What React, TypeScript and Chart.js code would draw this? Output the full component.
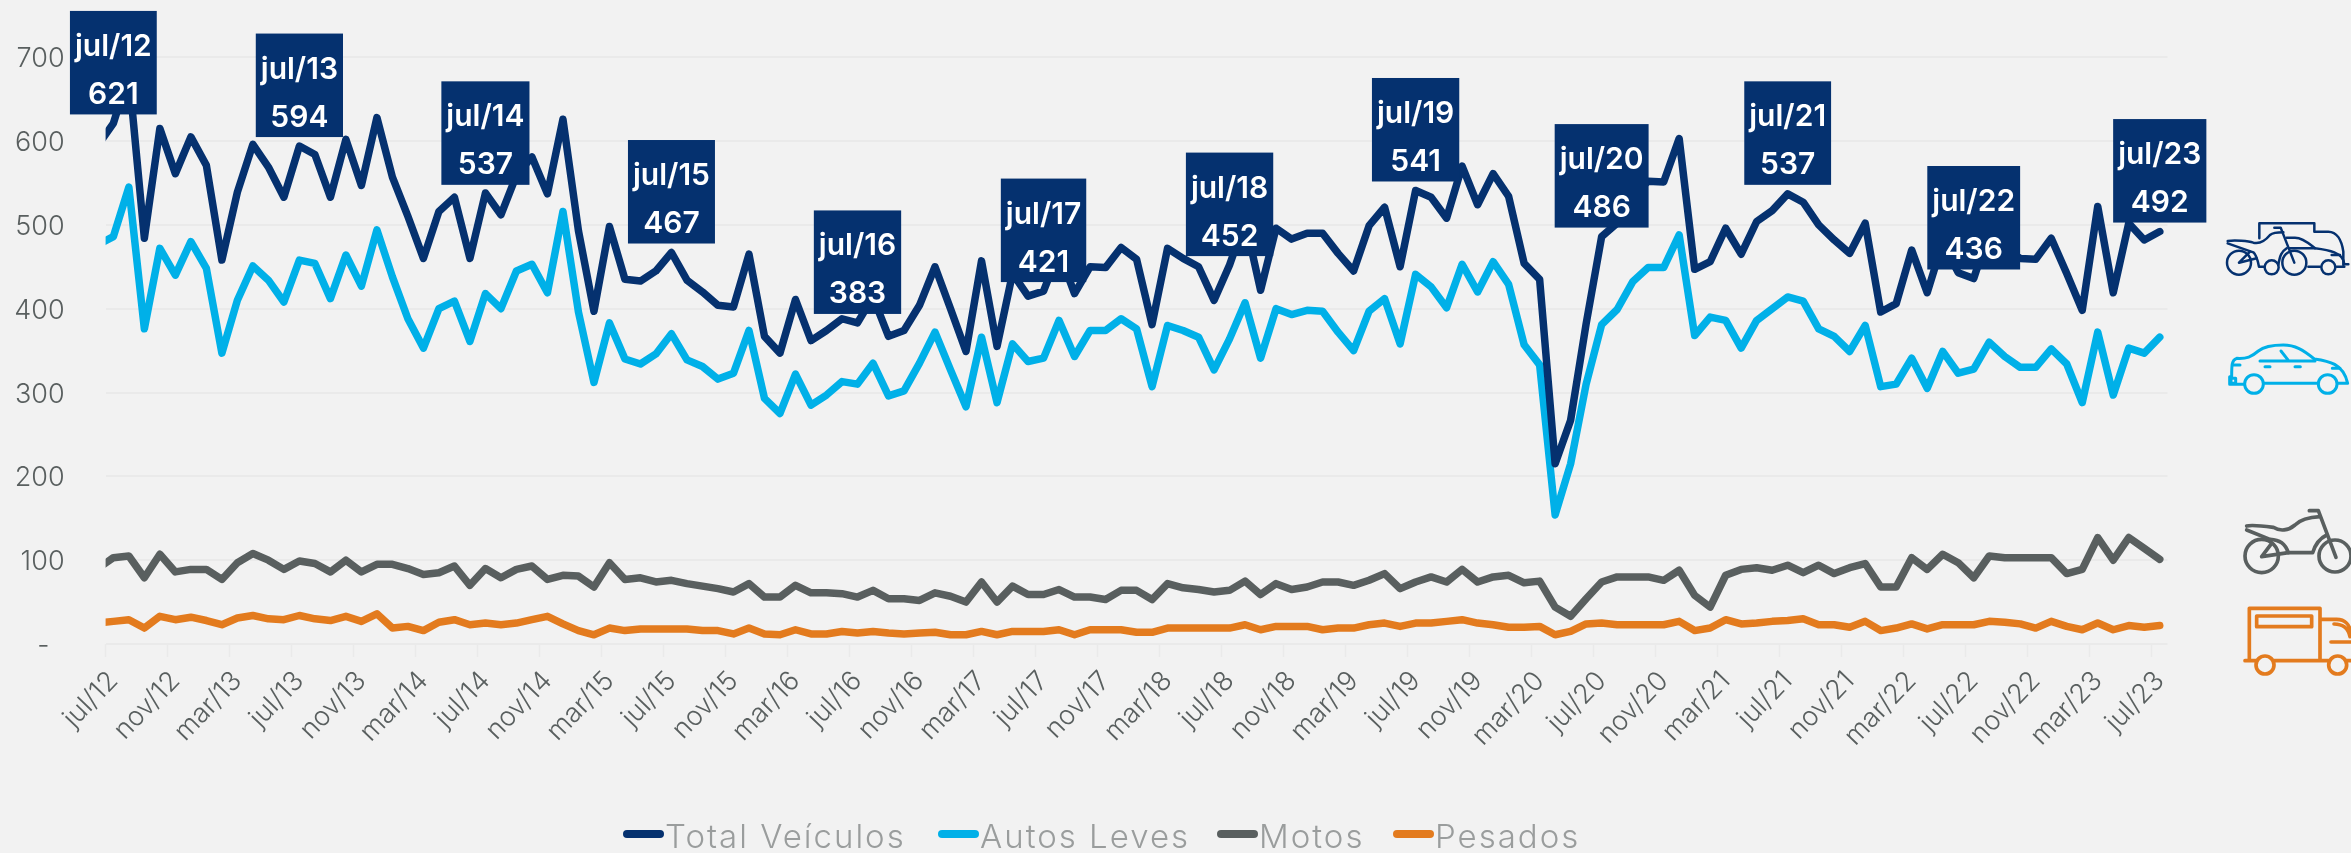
import React, { useEffect, useRef } from "react";
import { Chart, registerables } from "chart.js";

Chart.register(...registerables);

const categories = [
  "jun/12","jul/12","ago/12","set/12","out/12","nov/12","dez/12",
  "jan/13","fev/13","mar/13","abr/13","mai/13","jun/13","jul/13","ago/13","set/13","out/13","nov/13","dez/13",
  "jan/14","fev/14","mar/14","abr/14","mai/14","jun/14","jul/14","ago/14","set/14","out/14","nov/14","dez/14",
  "jan/15","fev/15","mar/15","abr/15","mai/15","jun/15","jul/15","ago/15","set/15","out/15","nov/15","dez/15",
  "jan/16","fev/16","mar/16","abr/16","mai/16","jun/16","jul/16","ago/16","set/16","out/16","nov/16","dez/16",
  "jan/17","fev/17","mar/17","abr/17","mai/17","jun/17","jul/17","ago/17","set/17","out/17","nov/17","dez/17",
  "jan/18","fev/18","mar/18","abr/18","mai/18","jun/18","jul/18","ago/18","set/18","out/18","nov/18","dez/18",
  "jan/19","fev/19","mar/19","abr/19","mai/19","jun/19","jul/19","ago/19","set/19","out/19","nov/19","dez/19",
  "jan/20","fev/20","mar/20","abr/20","mai/20","jun/20","jul/20","ago/20","set/20","out/20","nov/20","dez/20",
  "jan/21","fev/21","mar/21","abr/21","mai/21","jun/21","jul/21","ago/21","set/21","out/21","nov/21","dez/21",
  "jan/22","fev/22","mar/22","abr/22","mai/22","jun/22","jul/22","ago/22","set/22","out/22","nov/22","dez/22",
  "jan/23","fev/23","mar/23","abr/23","mai/23","jun/23","jul/23",
];

const totalVeiculos = [
  595,621,680,484,615,561,605,571,458,539,596,569,533,594,584,533,602,547,628,557,510,460,516,533,460,538,512,559,581,537,626,
  493,397,498,435,433,445,467,434,420,404,402,465,367,347,411,362,374,388,383,414,367,374,404,450,400,349,457,355,442,415,421,468,418,450,449,473,459,
  381,472,460,450,410,452,505,422,496,483,490,490,466,445,499,521,450,541,533,508,570,524,561,534,454,435,215,267,382,486,502,535,552,551,603,447,456,
  496,465,504,517,537,527,500,482,466,502,396,406,470,419,479,443,436,492,472,460,459,484,442,398,522,419,502,482,492,
];
const autosLeves = [
  476,486,545,376,472,440,480,448,347,410,451,434,408,458,454,412,464,427,494,438,388,353,400,409,361,418,400,445,453,419,516,
  396,312,383,340,334,346,370,339,331,316,323,374,293,275,322,285,297,313,310,335,296,302,335,372,327,283,366,288,358,337,341,386,343,374,374,388,376,
  307,380,374,366,327,364,407,341,400,393,398,397,372,350,397,412,358,441,426,401,453,420,456,429,357,333,154,215,310,381,399,432,449,449,488,368,390,
  386,353,386,400,414,409,376,367,349,380,307,310,341,305,349,323,328,360,343,330,330,352,334,288,372,297,353,347,366,
];
const motos = [
  90,103,105,79,107,86,89,89,77,97,108,100,89,99,96,86,100,86,95,95,90,83,85,93,70,90,79,89,93,77,82,
  81,68,97,77,79,74,76,72,69,66,62,72,56,56,70,61,61,60,56,64,54,54,52,61,57,50,74,50,69,59,59,65,56,56,53,64,64,
  53,72,67,65,62,64,75,59,72,65,68,74,74,70,76,84,66,74,80,74,89,74,80,82,73,75,44,33,54,74,80,80,80,76,88,58,44,
  82,89,91,88,94,85,94,84,91,96,68,68,103,89,107,97,79,105,103,103,103,103,84,89,127,100,127,114,101,
];
const pesados = [
  25,27,29,19,33,29,32,28,23,31,34,30,29,34,30,28,33,27,36,19,21,16,26,29,23,25,23,25,29,33,24,
  16,11,19,16,18,18,18,18,16,16,12,19,12,11,17,12,12,15,13,15,13,12,13,14,11,11,15,11,15,15,15,17,11,17,17,17,14,
  14,19,19,19,19,19,23,17,21,21,21,17,19,19,23,25,21,25,25,27,29,25,23,20,20,21,11,15,24,25,23,23,23,23,27,16,19,
  29,24,25,27,28,30,23,23,20,27,16,19,24,18,23,23,23,27,26,24,19,27,21,17,25,17,22,20,22,
];

const seriesNames = ["Total Veículos", "Autos Leves", "Motos", "Pesados"];
const seriesColors = ["#05316F", "#00B0E8", "#595F5F", "#E37B1E"];
const highlightLabels = ["jul/12","jul/13","jul/14","jul/15","jul/16","jul/17","jul/18","jul/19","jul/20","jul/21","jul/22","jul/23"];
const highlightValues = [621, 594, 537, 467, 383, 421, 452, 541, 486, 537, 436, 492];

const grid = "#EAEAEA";

const calloutPlugin = {
  id: "callouts",
  afterDatasetsDraw(chart: any) {
    const { ctx } = chart;
    const x = chart.scales.x;
    const y = chart.scales.y;
    ctx.save();
    ctx.font = "600 30px Inter";
    ctx.textAlign = "center";
    ctx.textBaseline = "alphabetic";
    highlightLabels.forEach((label, i) => {
      const value = highlightValues[i];
      const px = x.getPixelForValue(categories.indexOf(label));
      const py = y.getPixelForValue(value);
      const w = ctx.measureText(label).width + 10;
      const h = 103.5;
      const bottom = py - 9;
      ctx.fillStyle = seriesColors[0];
      ctx.fillRect(px - w / 2, bottom - h, w, h);
      ctx.fillStyle = "#FFFFFF";
      ctx.fillText(label, px, bottom - h + 45);
      ctx.fillText(String(value), px, bottom - h + 93);
    });
    ctx.restore();
  },
};

const legendPlugin = {
  id: "lineLegend",
  afterDraw(chart: any) {
    const { ctx } = chart;
    const swatchX = [623, 938, 1217, 1393];
    ctx.save();
    ctx.font = "300 33px Inter";
    (ctx as any).letterSpacing = "2px";
    ctx.textAlign = "left";
    ctx.textBaseline = "alphabetic";
    seriesNames.forEach((name, i) => {
      ctx.strokeStyle = seriesColors[i];
      ctx.lineWidth = 8;
      ctx.lineCap = "round";
      ctx.beginPath();
      ctx.moveTo(swatchX[i] + 4, 834);
      ctx.lineTo(swatchX[i] + 37, 834);
      ctx.stroke();
      ctx.fillStyle = "#9A9D9D";
      ctx.fillText(name, swatchX[i] + 42, 848);
    });
    ctx.restore();
  },
};

function Icons() {
  const navy = seriesColors[0];
  const cyan = seriesColors[1];
  const gray = seriesColors[2];
  const orange = seriesColors[3];
  const base: React.CSSProperties = { position: "absolute", overflow: "visible" };
  return (
    <>
      <svg style={{ ...base, left: 2215, top: 215 }} width={136} height={190} viewBox="0 0 408 570" fill="none" strokeLinecap="round" strokeLinejoin="round">
        <g stroke={navy} strokeWidth={7.5}>
          <path d="M133 70V25H298V50H340C365 50 380 75 385 110V150" />
          <path d="M215 68H240C265 68 285 88 300 100C340 105 385 112 388 148H400" />
          <path d="M225 100H300M280 155H315M365 155H388M350 120H375" />
          <path d="M38 78C60 75 100 78 115 83C135 88 150 78 165 60C175 52 190 52 205 52" />
          <path d="M38 85L115 112C125 120 128 135 132 155H148" />
          <path d="M178 38H197L238 143" />
          <path d="M215 100C200 110 195 120 190 150" />
          <path d="M72 143L105 110M72 143L125 130" />
          <circle cx="72" cy="143" r="36" />
          <circle cx="238" cy="143" r="36" />
          <circle cx="170" cy="157" r="21" />
          <circle cx="340" cy="157" r="21" />
        </g>
        <g stroke={cyan} strokeWidth={9}>
          <path d="M88 508H44V485H50C50 450 50 435 65 430C95 432 110 425 130 408C150 392 175 390 205 390C240 390 265 405 298 432C340 438 385 445 398 505H370" />
          <path d="M148 505H308M135 438H300M198 408L220 436M150 455H165M240 455H256M352 460H375M52 450H75" />
          <rect x="48" y="490" width="14" height="15" />
          <circle cx="117" cy="507" r="28" />
          <circle cx="338" cy="507" r="28" />
        </g>
      </svg>
      <svg style={{ ...base, left: 2230, top: 500 }} width={121} height={185} viewBox="0 0 363 555" fill="none" strokeLinecap="round" strokeLinejoin="round">
        <g stroke={gray} strokeWidth={11}>
          <circle cx="95" cy="168" r="50" />
          <circle cx="315" cy="168" r="48" />
          <path d="M50 78C60 75 100 78 130 82C150 95 175 92 195 75C210 60 230 52 270 50" />
          <path d="M50 90L120 118C150 120 165 130 175 158H248C255 135 270 115 290 105" />
          <path d="M95 170L125 130M95 170L175 158M238 32H265L318 172" />
        </g>
        <g stroke={orange} strokeWidth={11}>
          <path d="M58 480V325H270V480M45 482H80M132 482H295M350 482H363" />
          <path d="M272 358H320C345 358 360 375 363 400M303 426H363M312 372C340 372 355 385 360 410" />
          <rect x="80" y="348" width="165" height="32" />
          <circle cx="105" cy="495" r="27" />
          <circle cx="323" cy="495" r="27" />
        </g>
      </svg>
    </>
  );
}

export default function App() {
  const ref = useRef<HTMLCanvasElement>(null);
  useEffect(() => {
    const seriesData = [totalVeiculos, autosLeves, motos, pesados];
    const chart = new Chart(ref.current as HTMLCanvasElement, {
      type: "line",
      data: {
        labels: categories,
        datasets: seriesNames.map((label, i) => ({
          label,
          data: seriesData[i],
          borderColor: seriesColors[i],
          backgroundColor: seriesColors[i],
          borderWidth: 7.5,
          pointRadius: 0,
          tension: 0,
          borderCapStyle: "round",
          borderJoinStyle: "round",
        })),
      } as any,
      options: {
        animation: false,
        responsive: false,
        layout: { padding: { top: 57, right: 183.5, left: 0, bottom: 0 } },
        plugins: { legend: { display: false }, tooltip: { enabled: false } },
        scales: {
          x: {
            type: "category",
            min: "jul/12",
            offset: true,
            afterFit: (s: any) => { s.height = 209; },
            border: { display: false },
            grid: {
              offset: true,
              drawOnChartArea: false,
              drawTicks: true,
              tickLength: 13,
              tickWidth: 1.5,
              tickColor: (c: any) => (c.index % 4 === 0 && c.index < 133 ? grid : "transparent"),
            },
            ticks: {
              autoSkip: false,
              minRotation: 46,
              maxRotation: 46,
              padding: 8,
              color: "#595F5F",
              font: { family: "Inter", size: 27, weight: "300" },
              callback: (_v: any, i: number) => (i % 4 === 0 ? categories[i + 1] : ""),
            },
          },
          y: {
            min: 0,
            max: 700,
            afterFit: (s: any) => { s.width = 105.6; },
            border: { display: false },
            grid: { color: grid, lineWidth: 2, drawTicks: false },
            ticks: {
              stepSize: 100,
              padding: 41,
              labelOffset: 2,
              color: "#595F5F",
              font: { family: "Inter", size: 27, weight: "300" },
              callback: (v: any) => (v === 0 ? "-  " : String(v)),
            },
          },
        },
      } as any,
      plugins: [calloutPlugin, legendPlugin],
    });
    return () => chart.destroy();
  }, []);
  return (
    <div style={{ position: "fixed", left: 0, top: 0, width: 2351, height: 853, background: "#F2F2F2", overflow: "hidden" }}>
      <canvas ref={ref} width={2351} height={853} style={{ display: "block" }} />
      <Icons />
    </div>
  );
}
